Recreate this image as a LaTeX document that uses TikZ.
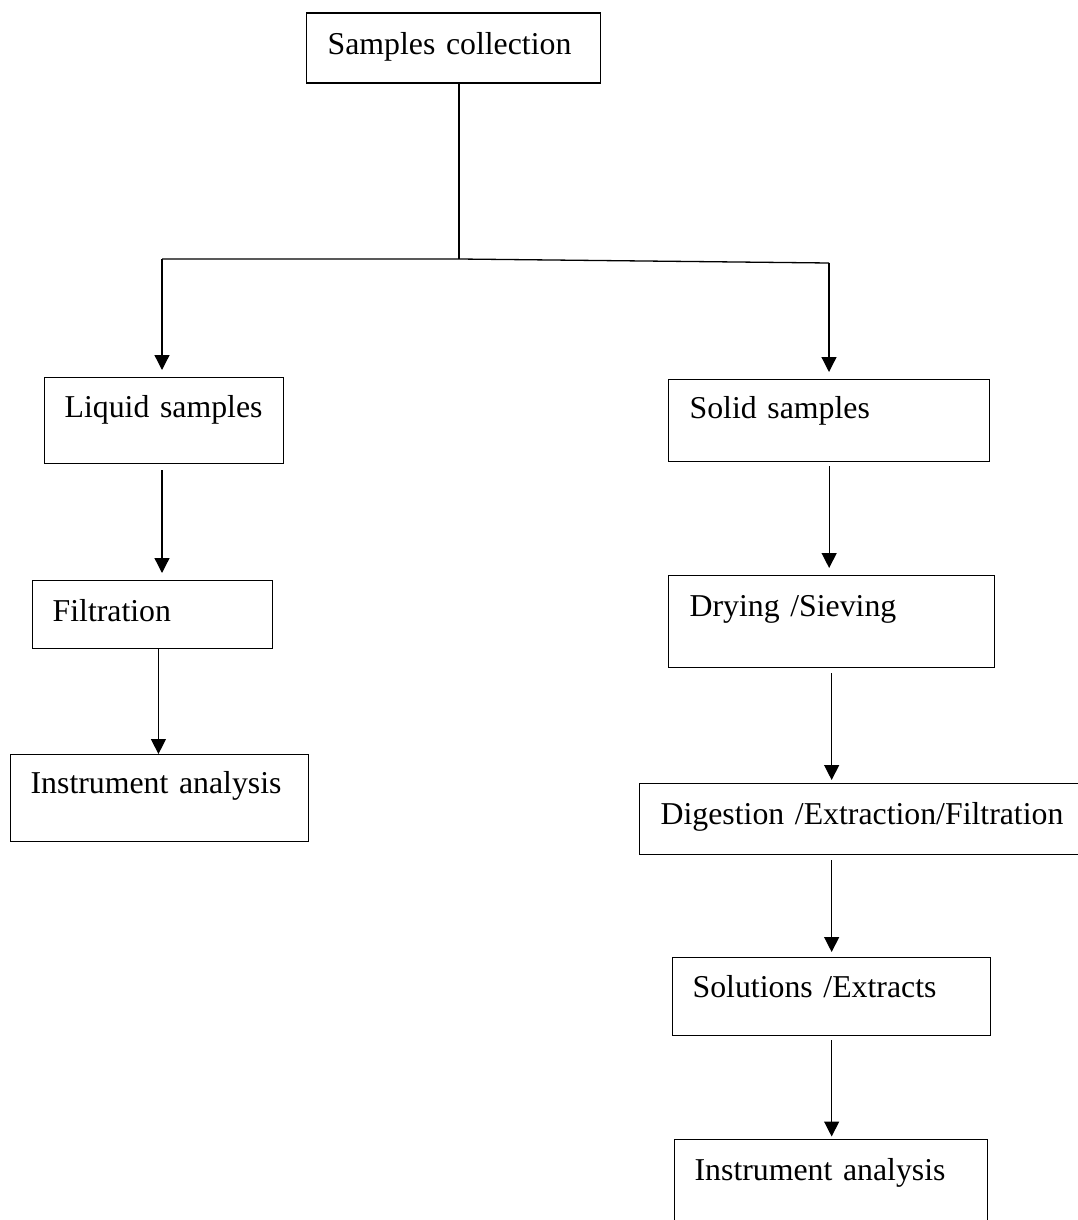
\documentclass[tikz,border=0pt]{standalone}
\usepackage{fontspec}
\setmainfont{Liberation Serif}
\usetikzlibrary{arrows.meta}
\newcommand{\boxfont}{\fontsize{31.8}{38}\selectfont}
\tikzset{
  stage/.style={draw, line width=1.3pt, anchor=north west, inner ysep=0pt, align=left, font=\boxfont},
  link/.style={line width=1.3pt},
  flow/.style={line width=1.3pt, -{Triangle[length=15pt,width=15pt]}},
}

\begin{document}
\begin{tikzpicture}[x=1pt,y=-1pt]
            \useasboundingbox (0,0) rectangle (1078,1220);
            % top box and split
            \node[stage, inner xsep=21pt, text width=252pt, text height=41.5pt, text depth=28.5pt] (coll) at (306,12.5) {Samples collection};
            \coordinate (mid) at (459,259);
            \coordinate (left) at (162,259);
            \coordinate (right) at (829,263);
            % liquid branch
            \node[stage, inner xsep=20pt, text width=198.6pt, text height=40pt, text depth=46pt] (liq) at (44,377) {Liquid samples};
            \node[stage, inner xsep=20.4pt, text width=199.6pt, text height=41pt, text depth=27pt] (filt) at (31.6,580) {Filtration};
            \node[stage, inner xsep=20.4pt, text width=257.6pt, text height=39pt, text depth=48pt] (instL) at (9.6,754) {Instrument analysis};
            % solid branch
            \node[stage, inner xsep=21pt, text width=279pt, text height=39pt, text depth=43pt] (sol) at (668,379) {Solid samples};
            \node[stage, inner xsep=21pt, text width=284pt, text height=41pt, text depth=51pt] (dry) at (668,575) {Drying /Sieving};
            \node[stage, inner xsep=21pt, text width=410pt, text height=41pt, text depth=30pt] (dig) at (639,783) {Digestion /Extraction/Filtration};
            \node[stage, inner xsep=20pt, text width=278pt, text height=40pt, text depth=38pt] (solx) at (672,957) {Solutions /Extracts};
            \node[stage, inner xsep=20pt, text width=272.6pt, text height=41pt, text depth=60pt] (instR) at (674,1138.5) {Instrument analysis};
            % connectors
            \draw[link] (coll.south -| mid) -- (mid);
            \draw[link] (left) -- (mid) -- (right);
            \draw[flow, shorten >=7pt] (left) -- (left |- liq.north);
            \draw[flow, shorten >=7pt] (right) -- (right |- sol.north);
            \draw[flow, shorten <=6pt, shorten >=7pt] (liq.south -| left) -- (left |- filt.north);
            \draw[flow] ([xshift=6pt]filt.south) -- ([xshift=6pt]filt.south |- instL.north);
            \draw[flow, shorten <=4pt, shorten >=7pt] (sol.south) -- (sol.south |- dry.north);
            \draw[flow, shorten <=5pt, shorten >=3pt] (dry.south) -- (dry.south |- dig.north);
            \draw[flow, shorten <=5pt, shorten >=5pt] (solx.north |- dig.south) -- (solx.north);
            \draw[flow, shorten <=4pt, shorten >=2pt] (solx.south) -- (solx.south |- instR.north);
\end{tikzpicture}
\end{document}
